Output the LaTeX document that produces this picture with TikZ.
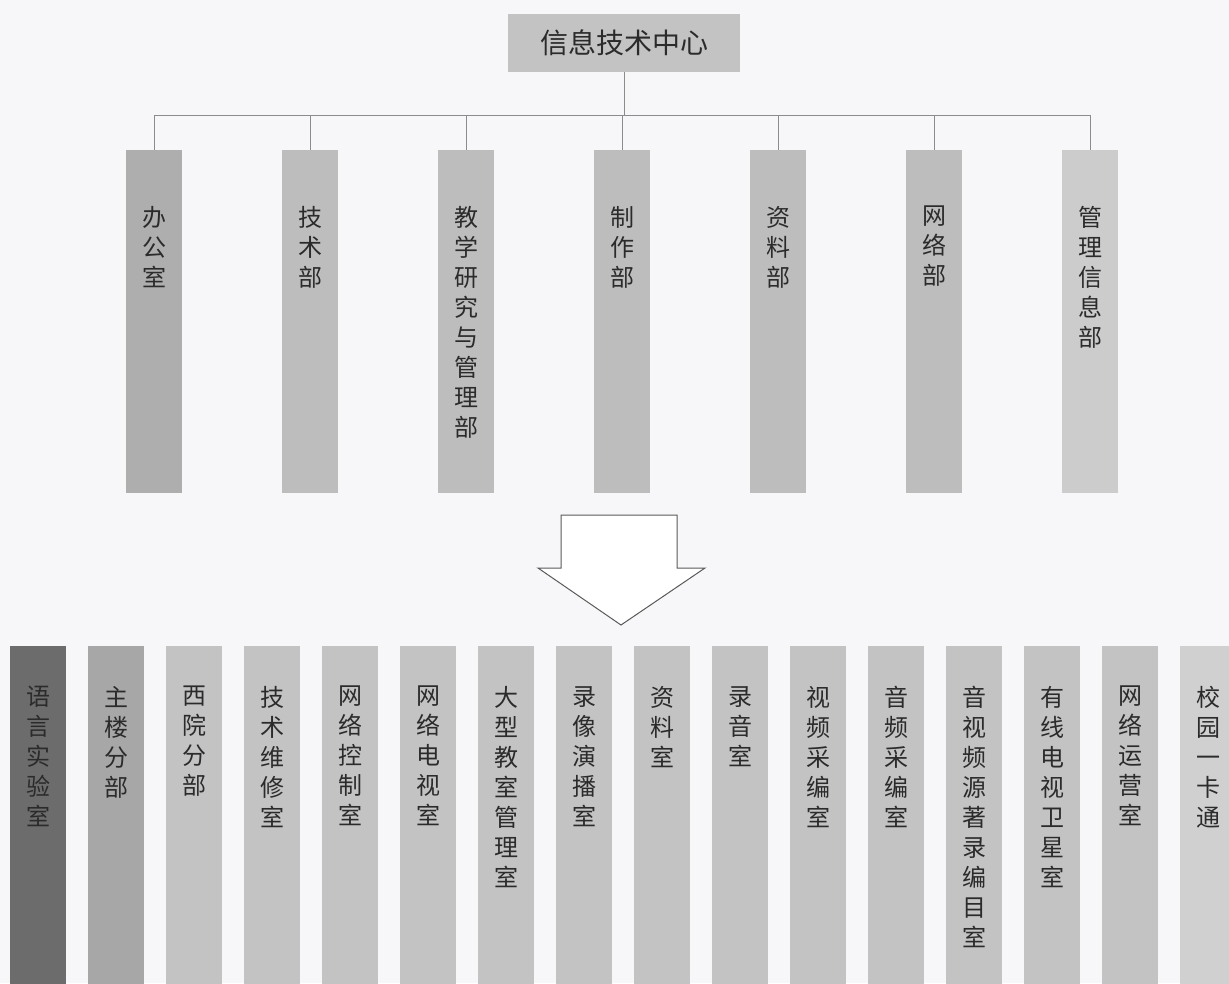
\documentclass[tikz,border=0pt]{standalone}
\usepackage{fontspec}
\newfontfamily\cjk{Noto Sans CJK SC}
\definecolor{chartink}{HTML}{2B2B2B}
\definecolor{chartline}{HTML}{8C8C8C}
\definecolor{chartpaper}{HTML}{F7F7F9}
\definecolor{arrowline}{HTML}{5A5A5A}
\definecolor{headfill}{HTML}{C3C3C3}
\definecolor{deptfill}{HTML}{BDBDBD}
\definecolor{deptdark}{HTML}{AEAEAE}
\definecolor{deptlight}{HTML}{CCCCCC}
\definecolor{unitfill}{HTML}{C3C3C3}
\definecolor{unitdark}{HTML}{6C6C6C}
\definecolor{unitmid}{HTML}{A7A7A7}
\definecolor{unitlight}{HTML}{D0D0D0}
\tikzset{
  headbox/.style={fill=headfill, minimum width=232pt, minimum height=58pt,
    inner sep=0pt, font=\cjk\fontsize{28}{32}\selectfont, text=chartink},
  deptbox/.style={anchor=north, minimum width=56pt, minimum height=343pt,
    inner sep=0pt},
  unitbox/.style={anchor=north, minimum width=56pt, minimum height=345pt,
    inner sep=0pt},
  vlabel/.style={anchor=north, align=center, inner sep=0pt,
    font=\cjk\fontsize{24}{30}\selectfont, text=chartink},
  link/.style={draw=chartline, line width=.8pt},
  blockarrow/.style={draw=arrowline, fill=white, line width=1pt,
    line join=miter}
}
\begin{document}
\begin{tikzpicture}[x=1pt,y=-1pt]
  \useasboundingbox (0,0) rectangle (1229,983);
  \clip (0,0) rectangle (1229,983);
  \fill[chartpaper] (0,0) rectangle (1229,983);

  % head and the seven departments
  \node[headbox] (itc) at (624,43) {信息技术中心};
  \coordinate (bus) at (624,115);
  \foreach \lbl/\shade [count=\i] in {%
      办\\公\\室/deptdark, 技\\术\\部/deptfill,
      教\\学\\研\\究\\与\\管\\理\\部/deptfill, 制\\作\\部/deptfill,
      资\\料\\部/deptfill, 网\\络\\部/deptfill,
      管\\理\\信\\息\\部/deptlight} {
    \node[deptbox, fill=\shade] (d\i) at ({154+156*(\i-1)},150) {};
    \node[vlabel] (d\i-txt) at ({154+156*(\i-1)},206) {\lbl};
    \draw[link] (d\i.north |- bus) -- (d\i.north);
  }
  \draw[link] (itc.south) -- (itc.south |- bus);
  \draw[link] (d1.north |- bus) -- (d7.north |- bus);

  % reorganisation arrow
  \draw[blockarrow] (561,515) -- (677,515) -- (677,568) -- (705,568)
    -- (621,625) -- (538,568) -- (561,568) -- cycle;

  % the sixteen rooms
  \foreach \lbl/\shade [count=\i] in {%
      语\\言\\实\\验\\室/unitdark, 主\\楼\\分\\部/unitmid,
      西\\院\\分\\部/unitfill, 技\\术\\维\\修\\室/unitfill,
      网\\络\\控\\制\\室/unitfill, 网\\络\\电\\视\\室/unitfill,
      大\\型\\教\\室\\管\\理\\室/unitfill, 录\\像\\演\\播\\室/unitfill,
      资\\料\\室/unitfill, 录\\音\\室/unitfill,
      视\\频\\采\\编\\室/unitfill, 音\\频\\采\\编\\室/unitfill,
      音\\视\\频\\源\\著\\录\\编\\目\\室/unitfill,
      有\\线\\电\\视\\卫\\星\\室/unitfill,
      网\\络\\运\\营\\室/unitfill, 校\\园\\一\\卡\\通/unitlight} {
    \node[unitbox, fill=\shade] (u\i) at ({38+78*(\i-1)},646) {};
    \node[vlabel] (u\i-txt) at ({38+78*(\i-1)},686) {\lbl};
  }
\end{tikzpicture}
\end{document}
